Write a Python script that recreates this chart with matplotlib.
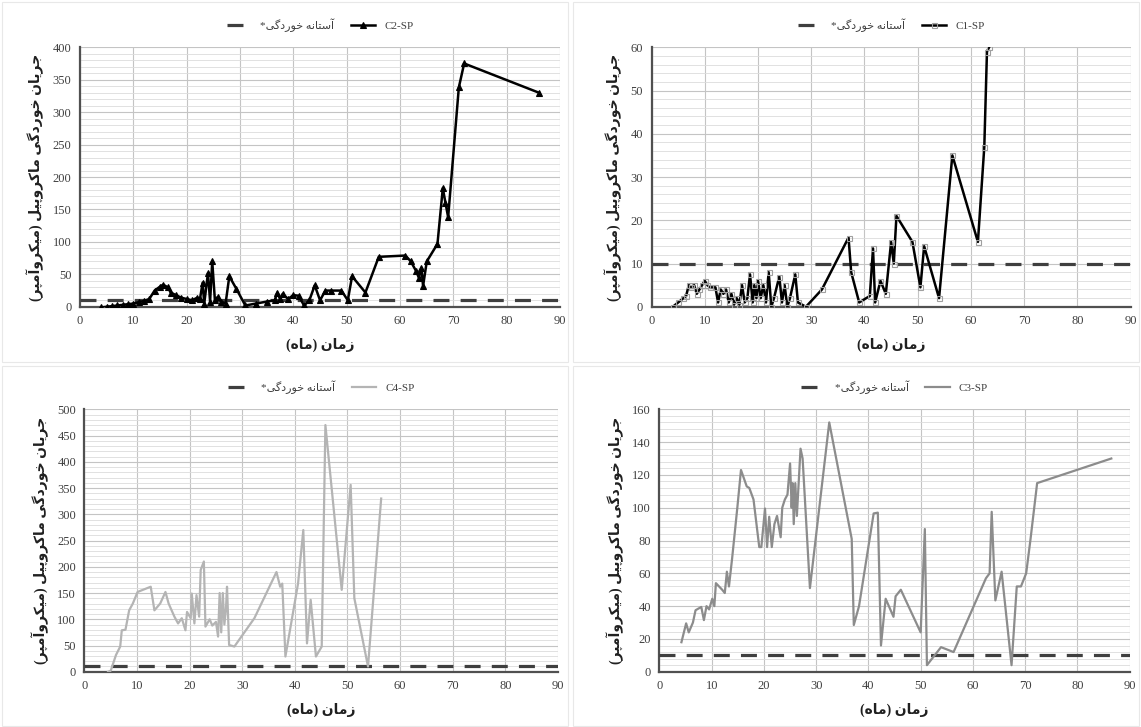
import matplotlib
matplotlib.use("Agg")
import matplotlib.pyplot as plt
from matplotlib.ticker import MultipleLocator
from matplotlib.patches import Rectangle

plt.rcParams['font.family'] = ['Liberation Serif', 'DejaVu Sans']

# C2-SP (بالا چپ)
c2_mah = [4, 5, 6, 7, 8, 9, 10, 11, 12, 13, 14, 15, 15.6, 16.5, 17, 18, 19, 20, 21, 22, 22.5,
          23, 23.3, 24, 24.4, 24.8, 25.3, 25.8, 26.5, 27.3, 28, 29.3, 31, 33, 35, 36.5, 37, 37.5, 38,
          39, 40, 41, 42, 43, 44, 45, 46, 47, 49, 50.2, 51, 53.5, 56, 61, 62, 63, 63.5, 64, 64.3,
          65, 67, 68, 68.5, 69, 71, 72, 86]
c2_jaryan = [-1, 0, 1, 2, 3, 4, 5, 7, 9, 12, 25, 31, 34, 30, 22, 18, 14, 12, 10, 14, 12,
             37, 5, 52, 8, 70, 10, 15, 8, 5, 47, 28, 2, 5, 8, 10, 22, 12, 20,
             12, 18, 17, 2, 10, 33, 10, 25, 25, 25, 10, 47, 22, 77, 79, 70, 55, 45, 60, 32,
             70, 97, 183, 160, 138, 338, 375, 330]

# C1-SP (بالا راست)
c1_mah = [4, 5, 6, 6.5, 7, 7.5, 8, 8.5, 9, 9.5, 10, 10.5, 11, 12, 12.5, 13, 13.5, 14, 14.5, 15,
          15.5, 16, 16.5, 17, 17.5, 18, 18.5, 19, 19.3, 19.7, 20, 20.5, 21, 21.5, 22, 22.5, 23, 24,
          24.5, 25, 25.5, 26, 27, 27.5, 29, 32, 37, 37.5, 39, 41, 41.6, 42, 43, 44, 45, 45.5, 46,
          49, 50.5, 51.2, 54, 56.5, 61.3, 62.5, 63, 63.4]
c1_jaryan = [0, 1, 2, 2.5, 5, 4.5, 5, 3, 4, 5, 6, 5, 4.5, 4.5, 1, 4, 3, 4, 1, 3,
             0.5, 2, 0.5, 5, 1, 2, 7.5, 1, 5, 2, 6, 2, 5, 1, 8, 0, 2, 7,
             1, 5, 0, 2, 7.5, 1, 0, 4, 16, 8, 1, 2.5, 13.5, 1, 6, 3, 15, 10, 21,
             15, 4.5, 14, 2, 35, 15, 37, 59, 60]

# C4-SP (پایین چپ)
c4_mah = [4.5, 5, 6, 6.8, 7.1, 7.8, 8.5, 9.2, 10.1, 12.6, 13.3, 14.4, 15.4, 16, 17.1, 17.8, 18.5,
          19.2, 19.5, 20.2, 20.4, 20.9, 21.3, 21.8, 22.1, 22.7, 23, 23.8, 24.3, 25, 25.4, 25.7, 26,
          26.3, 26.6, 26.9, 27.1, 27.5, 28.5, 32.3, 36.5, 37.2, 37.6, 38.2, 40.6, 41.6, 42.3, 43,
          44, 45.1, 45.8, 48.9, 50.6, 51.3, 53.9, 56.4]
c4_jaryan = [0, 2, 32, 48, 79, 80, 117, 130, 152, 162, 117, 130, 152, 130, 105, 92, 102,
             79, 114, 102, 149, 92, 146, 105, 194, 210, 86, 100, 88, 95, 67, 150, 75,
             150, 90, 120, 162, 51, 48, 102, 190, 162, 168, 29, 168, 270, 54, 137,
             29, 48, 470, 156, 356, 140, 10, 330]

# C3-SP (پایین راست)
c3_mah = [4.2, 5.1, 5.6, 6.4, 6.9, 8, 8.5, 9, 9.5, 10.1, 10.5, 10.8, 12, 12.5, 12.9, 13.3, 13.9,
          14.9, 15.6, 16.7, 17.2, 18, 19.1, 19.5, 20.2, 20.6, 21, 21.5, 22, 22.5, 23.2, 23.5,
          24, 24.5, 25, 25.3, 25.5, 25.7, 26, 26.3, 27, 27.4, 28.8, 32.5, 36.8, 37.2, 38.2, 41,
          41.8, 42.4, 43.3, 44.8, 45.2, 46.2, 50, 50.8, 51.2, 53.9, 56.3, 62.5, 63.2, 63.6, 64.3,
          65.5, 67.4, 68.4, 69.2, 70.2, 71, 72.3, 86.5]
c3_jaryan = [18, 29.5, 24, 30, 37.5, 39.5, 31.5, 40, 38, 44.5, 40, 54, 50, 48, 61, 52, 69,
             100, 123, 113, 112, 105, 76, 76, 99.5, 76, 94.5, 76, 90, 95, 82, 100,
             105, 108, 127, 100, 115, 90, 115, 95, 136, 130, 51, 152, 81, 28.5, 40, 96.5,
             97, 16, 44.5, 33.5, 46, 50, 24, 87, 4, 15, 12, 57, 60, 97.5, 43.5,
             61, 4, 52, 52, 60, 80, 115, 130]

astaneh = 10

# ترتیب: برچسب سری، داده ها، حداکثر محور، گام محور
panels = [
    ("C2-SP", c2_mah, c2_jaryan, 400, 50),
    ("C1-SP", c1_mah, c1_jaryan, 60, 10),
    ("C4-SP", c4_mah, c4_jaryan, 500, 50),
    ("C3-SP", c3_mah, c3_jaryan, 160, 20),
]

y_label_fa = "جریان خوردگی ماکروپیل (میکروآمپر)"
x_label_fa = "زمان (ماه)"
astaneh_label_fa = "آستانه خوردگی*"

# شکل حروف: منفرد، پایانی، آغازی، میانی
FORMS = {
    'ا': ('\uFE8D', '\uFE8E'), 'آ': ('\uFE81', '\uFE82'),
    'د': ('\uFEA9', '\uFEAA'), 'ر': ('\uFEAD', '\uFEAE'),
    'ز': ('\uFEAF', '\uFEB0'), 'و': ('\uFEED', '\uFEEE'),
    'پ': ('\uFB56', '\uFB57', '\uFB58', '\uFB59'),
    'ت': ('\uFE95', '\uFE96', '\uFE97', '\uFE98'),
    'ج': ('\uFE9D', '\uFE9E', '\uFE9F', '\uFEA0'),
    'خ': ('\uFEA5', '\uFEA6', '\uFEA7', '\uFEA8'),
    'س': ('\uFEB1', '\uFEB2', '\uFEB3', '\uFEB4'),
    'ک': ('\uFB8E', '\uFB8F', '\uFB90', '\uFB91'),
    'گ': ('\uFB92', '\uFB93', '\uFB94', '\uFB95'),
    'ل': ('\uFEDD', '\uFEDE', '\uFEDF', '\uFEE0'),
    'م': ('\uFEE1', '\uFEE2', '\uFEE3', '\uFEE4'),
    'ن': ('\uFEE5', '\uFEE6', '\uFEE7', '\uFEE8'),
    'ه': ('\uFEE9', '\uFEEA', '\uFEEB', '\uFEEC'),
    'ی': ('\uFBFC', '\uFBFD', '\uFBFE', '\uFBFF'),
}
MIRROR = {'(': ')', ')': '('}


def fa(text):
    """Shape Persian letters and put them in visual order (matplotlib has no bidi)."""
    out = []
    for i, ch in enumerate(text):
        if ch not in FORMS:
            out.append(MIRROR.get(ch, ch))
            continue
        prev = text[i - 1] if i > 0 else ''
        nxt = text[i + 1] if i + 1 < len(text) else ''
        join_prev = prev in FORMS and len(FORMS[prev]) == 4
        join_next = len(FORMS[ch]) == 4 and nxt in FORMS
        if join_prev and join_next:
            out.append(FORMS[ch][3])
        elif join_prev:
            out.append(FORMS[ch][1])
        elif join_next:
            out.append(FORMS[ch][2])
        else:
            out.append(FORMS[ch][0])
    return ''.join(reversed(out))


def rasm_panel(ax, label, mah, jaryan, ymax, ystep, color, marker, mfc, mec, ms):
    ax.axhline(astaneh, color='#3f3f3f', lw=2.3, dashes=(5, 3.5), label=fa(astaneh_label_fa), zorder=3)
    ax.plot(mah, jaryan, color=color, lw=1.8 if marker else 1.6, marker=marker, ms=ms,
            mfc=mfc, mec=mec, mew=0.8, label=label, zorder=4)
    ax.set_xlim(0, 90)
    ax.set_ylim(0, ymax)
    ax.xaxis.set_major_locator(MultipleLocator(10))
    ax.yaxis.set_major_locator(MultipleLocator(ystep))
    ax.yaxis.set_minor_locator(MultipleLocator(ystep / 5))
    ax.grid(True, which='major', color='#c4c4c4', lw=0.8)
    ax.grid(True, which='minor', axis='y', color='#dcdcdc', lw=0.6)
    ax.set_axisbelow(True)
    for s in ['top', 'right']:
        ax.spines[s].set_visible(False)
    for s in ['left', 'bottom']:
        ax.spines[s].set_color('#505050')
        ax.spines[s].set_linewidth(1.6)
    ax.tick_params(which='both', length=0, labelsize=9, colors='#404040', pad=6)
    ax.set_xlabel(fa(x_label_fa), fontsize=10, fontweight='bold', color='#202020', labelpad=8)
    ax.set_ylabel(fa(y_label_fa), fontsize=10, fontweight='bold', color='#202020', labelpad=6)
    ax.legend(loc='lower center', bbox_to_anchor=(0.5, 1.02), ncol=2, frameon=False,
              fontsize=8, handlelength=2.2, columnspacing=1.5, labelcolor='#404040')


fig = plt.figure(figsize=(11.41, 7.27), dpi=100)

positions = [
    [0.070, 0.578, 0.421, 0.357],
    [0.571, 0.578, 0.420, 0.357],
    [0.074, 0.076, 0.415, 0.361],
    [0.578, 0.076, 0.412, 0.361],
]
styles = [
    ('black', '^', 'black', 'black', 4),
    ('black', 's', 'none', '#a0a0a0', 3.6),
    ('#b4b4b4', None, None, None, 0),
    ('#8c8c8c', None, None, None, 0),
]

for pos, (label, mah, jaryan, ymax, ystep), st in zip(positions, panels, styles):
    ax = fig.add_axes(pos)
    rasm_panel(ax, label, mah, jaryan, ymax, ystep, *st)

# کادر کم رنگ دور هر نمودار
for x0, y0 in [(0.002, 0.502), (0.502, 0.502), (0.002, 0.002), (0.502, 0.002)]:
    fig.patches.append(Rectangle((x0, y0), 0.496, 0.495, transform=fig.transFigure,
                                 fill=False, ec='#e8e8e8', lw=0.8))

fig.savefig("out.png", dpi=100, facecolor='white')
